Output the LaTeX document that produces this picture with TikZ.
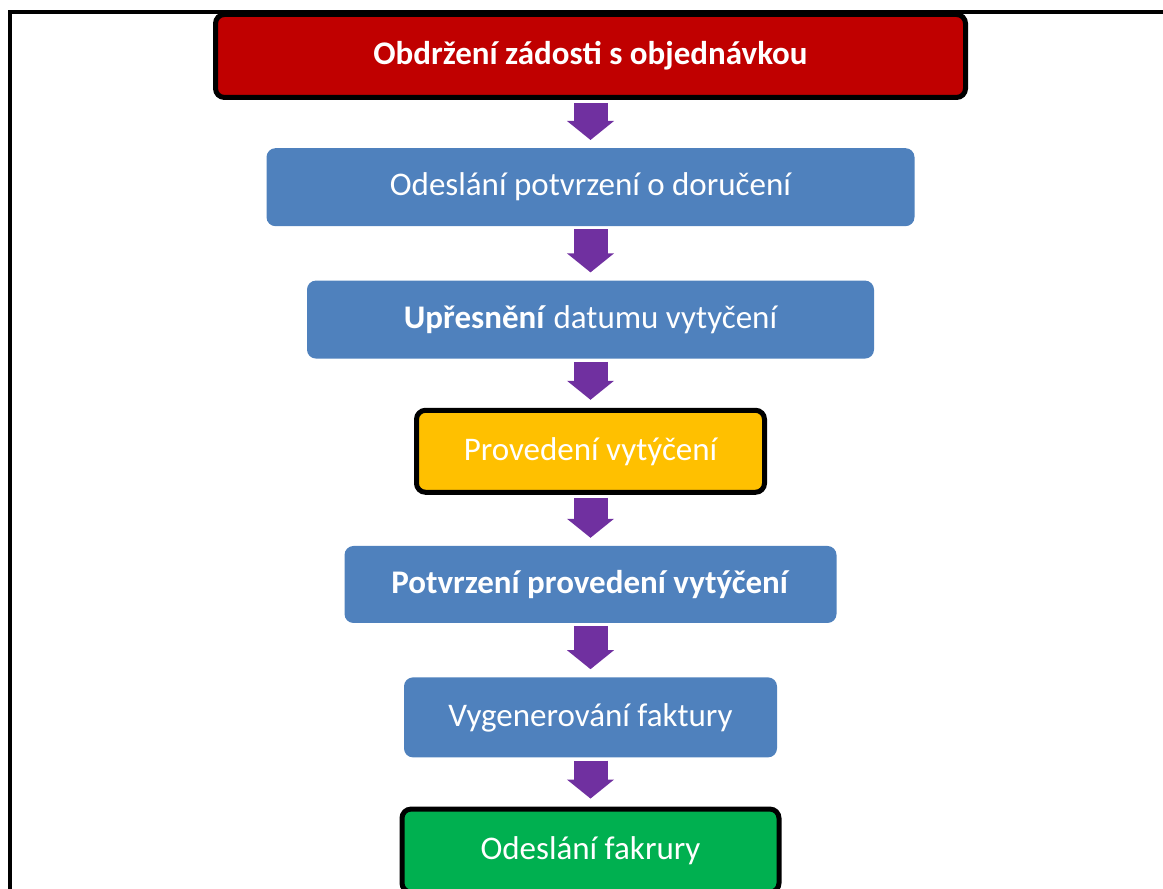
\documentclass[tikz,border=0pt]{standalone}
\usepackage{fontspec}
\setmainfont{Carlito}
\usepackage{xcolor}
\definecolor{st-red}{RGB}{192,0,0}
\definecolor{st-blue}{RGB}{79,129,189}
\definecolor{st-yellow}{RGB}{255,192,0}
\definecolor{st-green}{RGB}{0,176,80}
\definecolor{st-purple}{RGB}{112,48,160}
\usetikzlibrary{positioning,arrows.meta}

\begin{document}
\begin{tikzpicture}[x=1pt,y=1pt,
    stage/.style={rounded corners=9pt, text=white, inner sep=0pt, font=\fontsize{33}{38}\selectfont},
    keystage/.style={stage, draw=black, line width=5pt},
    flow/.style={st-purple, line width=34pt, -{Triangle[width=46pt,length=19pt]}, shorten <=3pt, shorten >=8pt}]
    \clip (0,0) rectangle (1163,889);
    \useasboundingbox (0,0) rectangle (1163,889);
    \draw[line width=3.5pt] (10,-10) -- (10,877) -- (1180,877);
    \node[keystage, fill=st-red, minimum width=750pt, minimum height=83pt, font=\fontsize{33}{38}\selectfont\bfseries] (recv) at (590.5,833) {Obdržení zádosti s objednávkou};
    \node[stage, fill=st-blue, minimum width=648pt, minimum height=78pt, below=48pt of recv] (ack) {Odeslání potvrzení o doručení};
    \node[stage, fill=st-blue, minimum width=567pt, minimum height=78pt, below=54pt of ack] (date) {\textbf{Upřesnění} datumu vytyčení};
    \node[keystage, fill=st-yellow, minimum width=348pt, minimum height=82pt, below=49pt of date] (work) {Provedení vytýčení};
    \node[stage, fill=st-blue, minimum width=492pt, minimum height=77pt, below=51pt of work] (done) {\textbf{Potvrzení provedení vytýčení}};
    \node[stage, fill=st-blue, minimum width=373pt, minimum height=80pt, below=54pt of done] (bill) {Vygenerování faktury};
    \node[keystage, fill=st-green, minimum width=377pt, minimum height=83pt, below=49pt of bill] (send) {Odeslání fakrury};
    \draw[flow] (recv) -- (ack);
    \draw[flow] (ack) -- (date);
    \draw[flow] (date) -- (work);
    \draw[flow] (work) -- (done);
    \draw[flow] (done) -- (bill);
    \draw[flow] (bill) -- (send);
\end{tikzpicture}
\end{document}
